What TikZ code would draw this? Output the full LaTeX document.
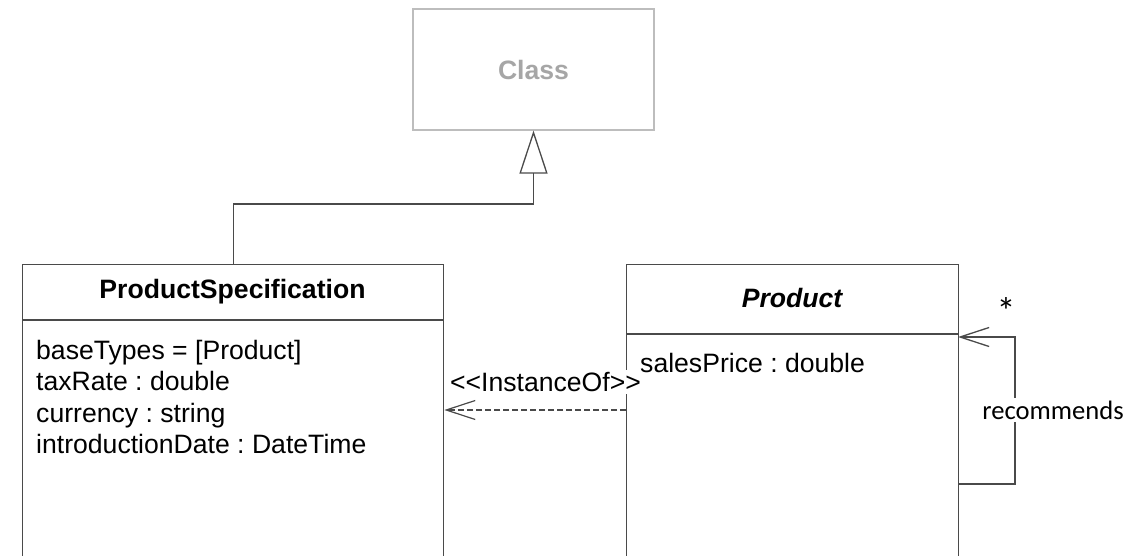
\documentclass[tikz,border=0pt]{standalone}
\usepackage{fontspec}
\setmainfont{Liberation Sans}
\newfontfamily\notefont{Carlito}
\usetikzlibrary{arrows.meta}
\frenchspacing

\definecolor{edge}{HTML}{4A4A4A}
\definecolor{faint}{HTML}{BDBDBD}
\definecolor{faintText}{HTML}{A6A6A6}

\tikzset{
  umlbox/.style={draw=edge, line width=1.3pt, fill=none, anchor=north west, inner sep=0pt},
  metabox/.style={draw=faint, line width=1.2pt, inner sep=0pt,
    font=\fontsize{26.6}{31}\selectfont\bfseries, text=faintText},
  title/.style={font=\fontsize{26.6}{31}\selectfont\bfseries, inner sep=0pt},
  attrs/.style={font=\fontsize{26.6}{31.3}\selectfont, anchor=north west, align=left, inner sep=0pt},
  sep/.style={draw=edge, line width=1.3pt},
  gen/.style={draw=edge, line width=1.3pt, -{Triangle[open, length=43pt, width=28pt, line width=1.3pt]}},
  dep/.style={draw=edge, line width=1.2pt, dash pattern=on 6pt off 3pt,
    -{Straight Barb[length=29pt, width=19pt, line width=1.2pt]}},
  assoc/.style={draw=edge, line width=1.3pt,
    -{Straight Barb[length=29pt, width=19pt, line width=1.3pt]}},
  tag/.style={font=\fontsize{26.6}{31}\selectfont, fill=white, inner sep=2pt},
  note/.style={font=\notefont\fontsize{26.6}{31}\selectfont, inner sep=1pt},
}

\begin{document}
\begin{tikzpicture}[x=1pt, y=-1pt]
  \path[use as bounding box, clip] (0,0) rectangle (1148,556);

  % metaclass
  \node[metabox, minimum width=241pt, minimum height=121pt] (cls) at (533.5,69.5) {Class};

  % class boxes (running off the bottom edge)
  \node[umlbox, minimum width=421pt, minimum height=360pt] (spec) at (22,264) {};
  \node[umlbox, minimum width=332pt, minimum height=360pt] (prod) at (626,264) {};

  % compartment separators
  \coordinate (specSepL) at (22,320);
  \coordinate (prodSepL) at (626,334);
  \draw[sep] (specSepL) -- (specSepL -| spec.east);
  \draw[sep] (prodSepL) -- (prodSepL -| prod.east);

  % titles
  \node[title] (specTitle) at (232.5,292) {ProductSpecification};
  \node[title] (prodTitle) at (792,298) {\itshape Product};

  % generalization to the metaclass
  \draw[gen] (spec.north) -- ++(0,-60) -| (cls.south);

  % instance-of dependency
  \coordinate (depFrom) at (626,410);
  \draw[dep] (depFrom) -- (depFrom -| spec.east);
  \node[tag] (depTag) at (545.5,382) {<{}<InstanceOf>{}>};

  % self association
  \coordinate (loopFrom) at (958,484);
  \coordinate (loopTo) at (958,337);
  \draw[assoc] (loopFrom) -- ++(57,0) |- (loopTo);
  \node[note, fill=white, inner sep=3pt] (recommends) at (1053,410) {recommends};
  \node[note, font=\notefont\fontsize{38}{40}\selectfont] (mult) at (1006,311) {*};

  % attributes
  \node[attrs] (specAttrs) at (36,340) {baseTypes = [Product]\\taxRate : double\\currency : string\\introductionDate : DateTime};
  \node[attrs] (prodAttrs) at (640,353) {salesPrice : double};
\end{tikzpicture}
\end{document}
